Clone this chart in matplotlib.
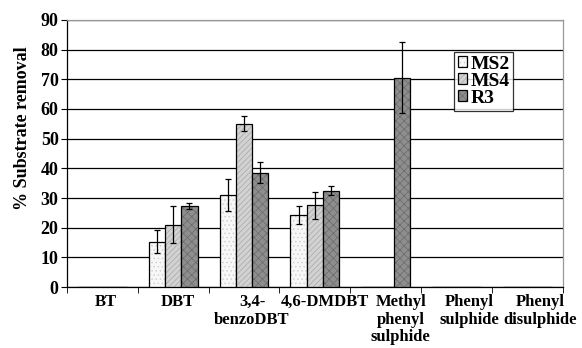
import matplotlib.pyplot as plt
import matplotlib.colors as mcolors
import numpy as np

plt.rcParams['font.family'] = ['Liberation Serif', 'DejaVu Serif']
plt.rcParams['font.weight'] = 'bold'
plt.rcParams['hatch.linewidth'] = 0.5

# Data
substrates = ['BT', 'DBT', '3,4-\nbenzoDBT', '4,6-DMDBT', 'Methyl\nphenyl\nsulphide',
              'Phenyl\nsulphide', 'Phenyl\ndisulphide']
strains = ['MS2', 'MS4', 'R3']
ms2 = [0, 15.3, 31.0, 24.3, 0, 0, 0]
ms2_err = [0, 3.8, 5.5, 3.0, 0, 0, 0]
ms4 = [0, 21.0, 55.0, 27.5, 0, 0, 0]
ms4_err = [0, 6.3, 2.5, 4.5, 0, 0, 0]
r3 = [0, 27.3, 38.5, 32.5, 70.5, 0, 0]
r3_err = [0, 1.0, 3.5, 1.5, 12.0, 0, 0]

values = [ms2, ms4, r3]
errors = [ms2_err, ms4_err, r3_err]
colors = ['#f7f7f7', '#d2d2d2', '#8e8e8e']
hatches = ['....', '//////', 'xxxx']
hatch_colors = ['#cccccc', '#a8a8a8', '#6a6a6a']

# Excel nudges the wrapped category labels a little to the right
label_shift_px = [3, 5, 8, 10, 15, 13, 13]

fig = plt.figure(figsize=(5.82, 3.48), dpi=100)
ax = fig.add_axes([0.115, 0.175, 0.852, 0.768])

x = np.arange(len(substrates))
w = 0.23
for i in range(3):
    pos = x + (i - 1) * w
    bars = ax.bar(pos, values[i], w, color=colors[i], edgecolor='black', linewidth=0.9,
                  label=strains[i], zorder=3)
    for b in bars:
        b.set_hatch(hatches[i])
        b._hatch_color = mcolors.to_rgba(hatch_colors[i])
    mask = np.array(errors[i]) > 0
    ax.errorbar(pos[mask], np.array(values[i])[mask], yerr=np.array(errors[i])[mask],
                fmt='none', ecolor='black', elinewidth=0.9, capsize=2.5, capthick=0.9, zorder=4)

ax.set_xlim(-0.5, len(substrates) - 0.5)
ax.set_ylim(0, 90)
ax.set_yticks(np.arange(0, 91, 10))
ax.yaxis.grid(True, color='black', linewidth=0.9, zorder=0)
ax.set_axisbelow(True)

# category labels: one text per wrapped line, like Excel does
ax.set_xticks(x)
ax.set_xticklabels([])
ax.set_xticks(np.arange(-0.5, len(substrates), 1.0), minor=True)
ax.tick_params(axis='x', which='major', length=0)
ax.tick_params(axis='x', which='minor', length=4, direction='out')
for i, (name, dx) in enumerate(zip(substrates, label_shift_px)):
    for j, line in enumerate(name.split('\n')):
        ax.annotate(line, xy=(i, 0), xycoords=('data', 'axes fraction'),
                    xytext=(dx, -7 - 17.5 * j), textcoords='offset pixels',
                    ha='center', va='top', fontsize=12, fontweight='bold')

ax.tick_params(axis='y', length=4, direction='out', labelsize=13, pad=2)
for lab in ax.get_yticklabels():
    lab.set_fontweight('bold')

ax.set_ylabel('% Substrate removal', fontsize=13, fontweight='bold')
ax.yaxis.set_label_coords(-0.072, 0.595)

for s in ['top', 'right']:
    ax.spines[s].set_color('#999999')
    ax.spines[s].set_linewidth(0.9)
for s in ['left', 'bottom']:
    ax.spines[s].set_color('black')
    ax.spines[s].set_linewidth(0.9)

leg = ax.legend(loc='upper left', bbox_to_anchor=(0.78, 0.88), frameon=True, fancybox=False,
                edgecolor='black', fontsize=14, handlelength=0.5, handleheight=0.5,
                handletextpad=0.15, borderpad=0.2, labelspacing=0.0, borderaxespad=0)
leg.get_frame().set_linewidth(0.9)
for t in leg.get_texts():
    t.set_fontweight('bold')

fig.savefig('out.png', dpi=100)
